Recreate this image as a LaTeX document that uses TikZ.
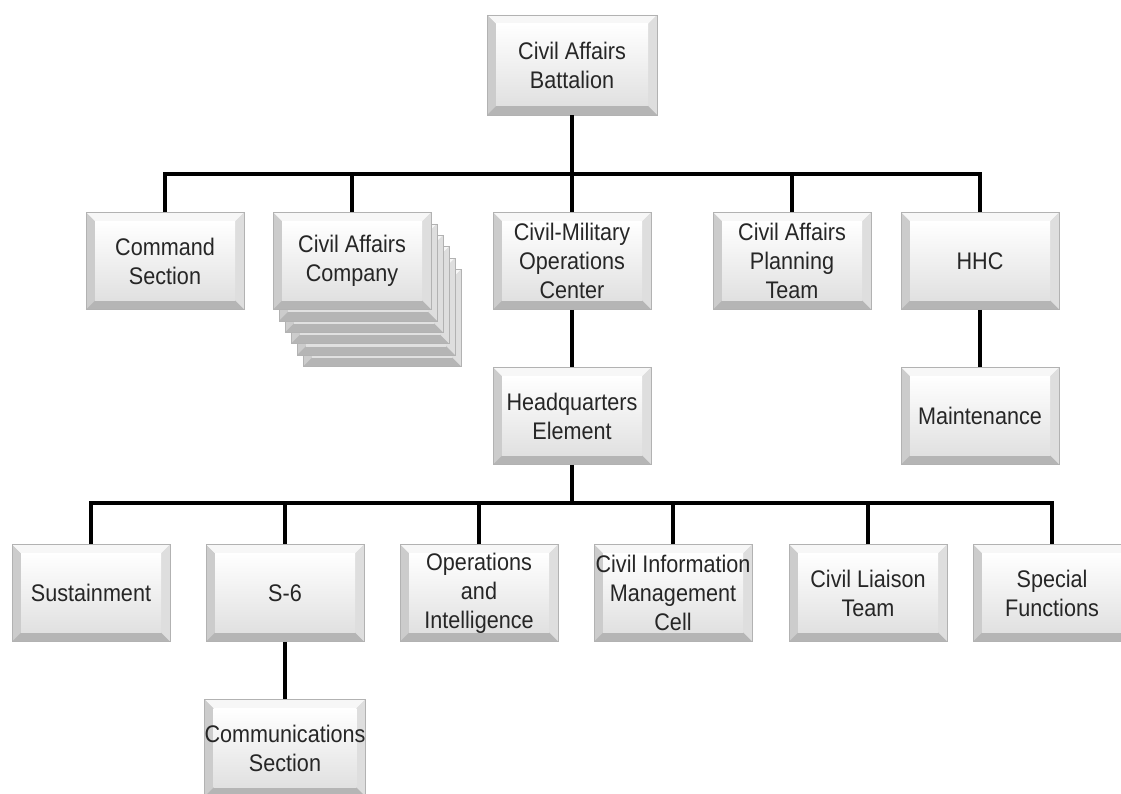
\documentclass[tikz,border=0pt]{standalone}
\usepackage{fontspec}
\setmainfont{Liberation Sans}[FakeStretch=0.9]
\usetikzlibrary{calc}
\newcommand\bevelfaces{%
  \coordinate (bw) at (path picture bounding box.north west);
  \coordinate (be) at (path picture bounding box.north east);
  \coordinate (bs) at (path picture bounding box.south east);
  \coordinate (bv) at (path picture bounding box.south west);
  \fill[gray!6] (bw) -- (be) -- ($(be)+(-9pt,-9pt)$) -- ($(bw)+(9pt,-9pt)$) -- cycle;
  \fill[gray!40] (bw) -- (bv) -- ($(bv)+(9pt,9pt)$) -- ($(bw)+(9pt,-9pt)$) -- cycle;
  \fill[gray!26] (be) -- (bs) -- ($(bs)+(-9pt,9pt)$) -- ($(be)+(-9pt,-9pt)$) -- cycle;
  \fill[gray!58] (bv) -- (bs) -- ($(bs)+(-9pt,9pt)$) -- ($(bv)+(9pt,9pt)$) -- cycle;
  \shade[top color=white, bottom color=gray!24] ($(bw)+(9pt,-9pt)$) rectangle ($(bs)+(-9pt,9pt)$);
}

\begin{document}
\begin{tikzpicture}[x=1pt,y=-1pt,
    unit/.style={rectangle, minimum width=158pt, minimum height=97pt, inner sep=0pt,
      align=center, text=black!85, font=\fontsize{24}{29}\selectfont,
      fill=gray!30, draw=gray!60, line width=0.6pt, path picture={\bevelfaces}},
    link/.style={draw=black, line width=3.4pt}]
\useasboundingbox (0,0) rectangle (1121,794);
\node[unit, minimum width=170pt, minimum height=100pt] (bn) at (572,65) {Civil Affairs\\Battalion};
\node[unit] (cmd) at (165,261) {Command\\Section};
\foreach \k in {5,4,3,2,1}
  \node[unit] (co\k) at ({352+6*\k},{261+11.4*\k}) {};
\node[unit] (co) at (352,261) {Civil Affairs\\Company};
\node[unit] (cmoc) at (572,261) {Civil-Military\\Operations\\Center};
\node[unit] (capt) at (792,261) {Civil Affairs\\Planning\\Team};
\node[unit] (hhc) at (980,261) {HHC};
\node[unit] (hq) at (572,416) {Headquarters\\Element};
\node[unit] (mnt) at (980,416) {Maintenance};
\node[unit] (sus) at (91,593) {Sustainment};
\node[unit] (s6) at (285,593) {S-6};
\node[unit] (oi) at (479,593) {Operations\\and\\Intelligence};
\node[unit] (cimc) at (673,593) {Civil Information\\Management\\Cell};
\node[unit] (clt) at (868,593) {Civil Liaison\\Team};
\node[unit] (sf) at (1052,593) {Special\\Functions};
\node[unit] (cs) at (285,748) {Communications\\Section};
\coordinate (topbus) at (572,174);
\coordinate (lowbus) at (572,503);
\draw[link] (bn) -- (cmoc);
\draw[link] (cmd.north) |- (topbus) -| (hhc.north);
\draw[link] (co.north) -- (co.north |- topbus);
\draw[link] (capt.north) -- (capt.north |- topbus);
\draw[link] (cmoc) -- (hq);
\draw[link] (hhc) -- (mnt);
\draw[link] (hq.south) -- (lowbus);
\draw[link] (sus.north) |- (lowbus) -| (sf.north);
\foreach \n in {s6,oi,cimc,clt}
  \draw[link] (\n.north) -- (\n.north |- lowbus);
\draw[link] (s6) -- (cs);
\end{tikzpicture}
\end{document}
